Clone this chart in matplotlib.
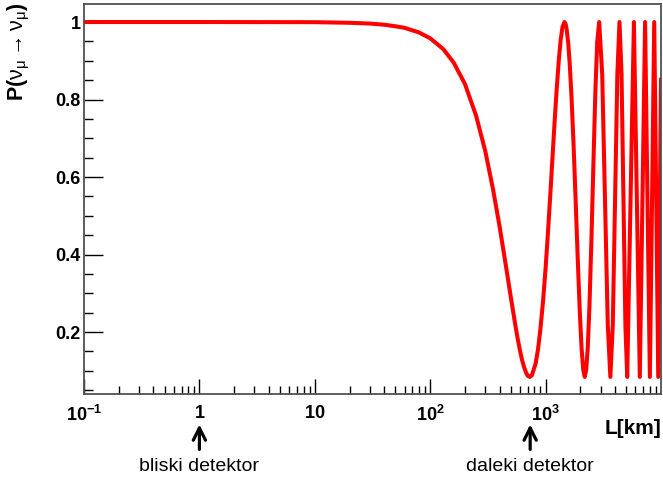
import numpy as np
import matplotlib.pyplot as plt
from matplotlib.ticker import LogLocator, MultipleLocator, NullFormatter

plt.rcParams['font.family'] = ['Liberation Sans', 'DejaVu Sans']
plt.rcParams['mathtext.fontset'] = 'custom'
plt.rcParams['mathtext.rm'] = 'Liberation Sans'
plt.rcParams['mathtext.bf'] = 'Liberation Sans:bold'
plt.rcParams['mathtext.it'] = 'Liberation Sans:italic'

# Vjerojatnost preživljavanja mionskog neutrina, vrijednosti očitane sa slike
L_km = [0.1, 1, 10, 20, 30, 40, 50, 60, 80, 100, 130, 160, 200, 250, 300, 350,
        400, 450, 500, 550, 575, 600, 625, 650, 680, 700, 728, 760, 820, 860,
        900, 950, 1000, 1050, 1100, 1150, 1200, 1250, 1300, 1350, 1400, 1456,
        1490, 1520, 1570, 1620, 1680, 1750, 1820, 1900, 1980, 2050, 2120, 2184,
        2250, 2320, 2400, 2500, 2600, 2700, 2800, 2912, 3094, 3458, 3640, 3822,
        4186, 4368, 4550, 4914, 5096, 5824, 6552, 7280, 8008, 8736, 9464, 10000]
P_surv = [1.0, 1.0, 0.9996, 0.998, 0.996, 0.993, 0.989, 0.985, 0.973, 0.958,
          0.930, 0.895, 0.840, 0.758, 0.667, 0.569, 0.471, 0.376, 0.289, 0.213,
          0.180, 0.152, 0.128, 0.110, 0.094, 0.087, 0.084, 0.088, 0.119, 0.156,
          0.205, 0.279, 0.365, 0.460, 0.558, 0.655, 0.748, 0.830, 0.900, 0.953,
          0.987, 1.0, 0.995, 0.983, 0.946, 0.890, 0.802, 0.678, 0.542, 0.387,
          0.250, 0.158, 0.102, 0.084, 0.103, 0.161, 0.269, 0.447, 0.643, 0.821,
          0.948, 1.0, 0.866, 0.218, 0.084, 0.218, 0.866, 1.0, 0.866, 0.218,
          0.084, 1.0, 0.084, 1.0, 0.084, 1.0, 0.084, 0.851]

x_ticks = [0.1, 1, 10, 100, 1000]
x_tick_labels = [r'$\mathbf{10^{-1}}$', r'$\mathbf{1}$', r'$\mathbf{10}$',
                 r'$\mathbf{10^{2}}$', r'$\mathbf{10^{3}}$']
y_ticks = [0.2, 0.4, 0.6, 0.8, 1.0]
y_tick_labels = ['0.2', '0.4', '0.6', '0.8', '1']

# položaji detektora (km)
detektori = [1, 735]
detektori_imena = ['bliski detektor', 'daleki detektor']

fig = plt.figure(figsize=(6.63, 4.83), dpi=100)
ax = fig.add_axes([84/663, 1 - 394/483, 577/663, 390/483])

ax.plot(L_km, P_surv, color='red', linewidth=2.9, solid_joinstyle='round')

ax.set_xscale('log')
ax.set_xlim(0.1, 1e4)
ax.set_ylim(0.04, 1.0465)

ax.set_xticks(x_ticks)
ax.set_xticklabels(x_tick_labels, fontsize=13)
ax.xaxis.set_minor_locator(LogLocator(base=10, subs=np.arange(2, 10)))
ax.xaxis.set_minor_formatter(NullFormatter())
ax.set_yticks(y_ticks)
ax.set_yticklabels(y_tick_labels, fontsize=13, fontweight='bold')
ax.yaxis.set_minor_locator(MultipleLocator(0.05))

ax.tick_params(axis='x', which='major', direction='in', length=10.8, width=1, pad=8, top=False)
ax.tick_params(axis='x', which='minor', direction='in', length=6, width=1, top=False)
ax.tick_params(axis='y', which='major', direction='in', length=13.5, width=1, pad=2.5, right=False)
ax.tick_params(axis='y', which='minor', direction='in', length=6.5, width=1, right=False)

for s in ax.spines.values():
    s.set_color('#505050')
    s.set_linewidth(1.3)

# oznake osi
fig.text(19/663, 1 - 2/483, r'$\mathbf{P(}\mathrm{\nu_{\mu}} \rightarrow \mathrm{\nu_{\mu}}\mathbf{)}$',
         rotation=90, ha='center', va='top', fontsize=15.5)
fig.text(661/663, 1 - 429/483, 'L[km]', ha='right', va='center', fontsize=15, fontweight='bold')

# strelice prema detektorima
for xd, ime in zip(detektori, detektori_imena):
    ax.annotate('', xy=(xd, -0.078), xytext=(xd, -0.142),
                xycoords=ax.get_xaxis_transform(), textcoords=ax.get_xaxis_transform(),
                arrowprops=dict(arrowstyle='->', lw=2.3, color='black',
                                mutation_scale=22, shrinkA=0, shrinkB=0),
                annotation_clip=False)
    ax.text(xd, -0.185, ime, transform=ax.get_xaxis_transform(),
            ha='center', va='center', fontsize=14)

plt.savefig('out.png', dpi=100)
